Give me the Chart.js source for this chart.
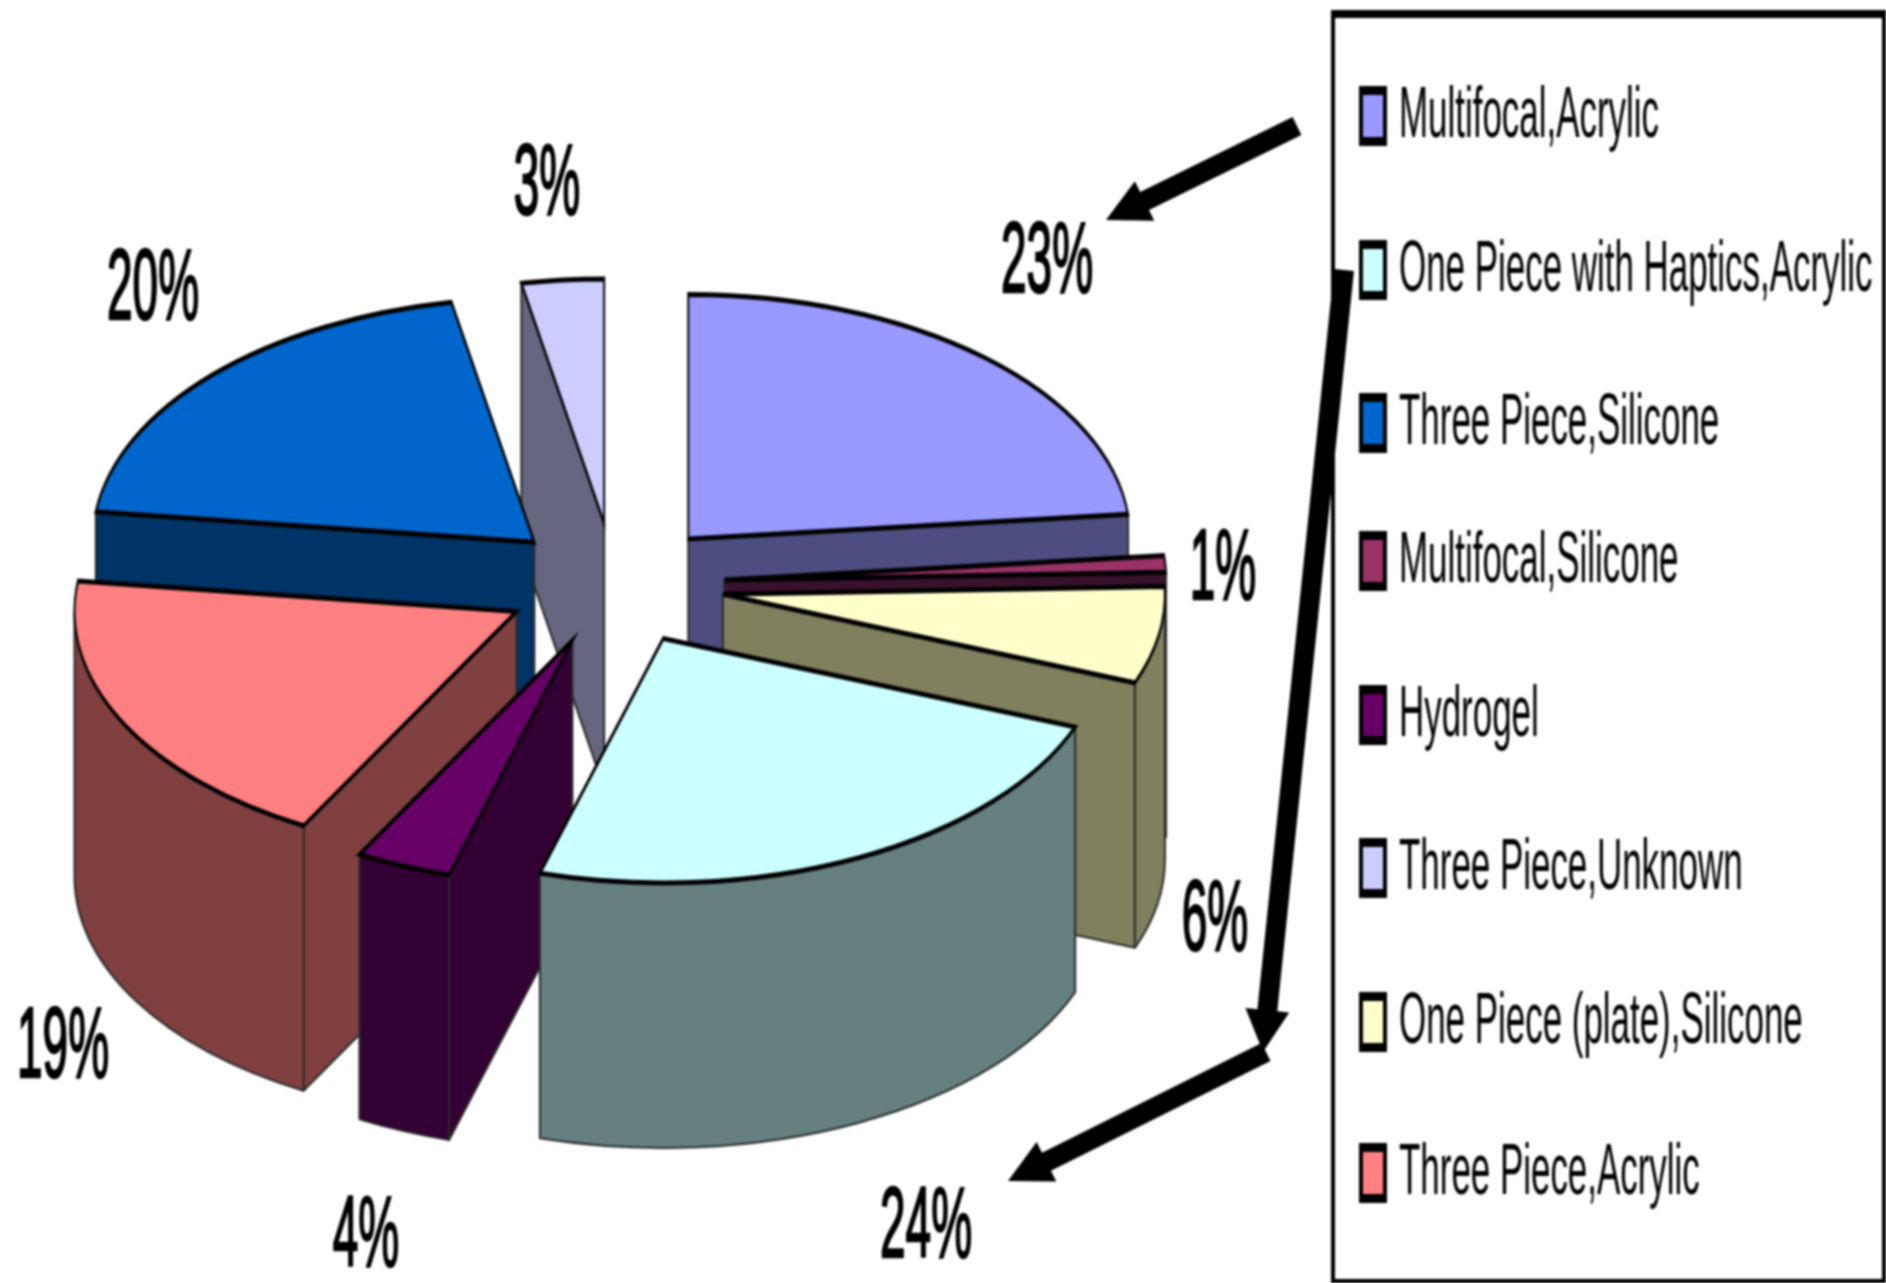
<!DOCTYPE html>
<html>
<head>
<meta charset="utf-8">
<style>
html,body{margin:0;padding:0;background:#fff;overflow:hidden}
#c{display:block;filter:blur(0.8px)}
</style>
<script src="https://cdn.jsdelivr.net/npm/chart.js@4"></script>
</head>
<body>
<canvas id="c" width="1886" height="1283"></canvas>
<script>
// clockwise from 12 o'clock, they round to the printed percentages
const sliceLabels = ['Multifocal,Acrylic','Multifocal,Silicone','One Piece (plate),Silicone','One Piece with Haptics,Acrylic','Hydrogel','Three Piece,Acrylic','Three Piece,Silicone','Three Piece,Unknown'];
const sliceValues = [23.4,1.1,6.4,23.6,3.5,19,20,3];
const topColors  = ['#9999FF','#993366','#FFFFCC','#CCFFFF','#660066','#FF8080','#0066CC','#CCCCFF'];
const wallColors = ['#4D4D80','#38122A','#80805F','#668080','#330033','#804040','#003366','#666680'];
const paintOrder = [7,6,0,1,2,5,4,3];
const legendOrder = [0,3,6,1,4,7,2,5];
const legendTops = [86,240,393,531,685,838,992,1143];
const percentLabels = ['23%','1%','6%','24%','4%','19%','20%','3%'];
const percentAnchors = [[1047,292],[1223,599],[1215,950],[926,1257],[366,1266],[63,1077],[153,319],[547,214]];

// view settings of the fake 3D pie
const SQUISH = 0.553, DEPTH = 265, EXPLODE = 110, RADIUS = 442;

function slicePath(ctx, ax, ay, a0, a1, R){
  ctx.beginPath();
  ctx.moveTo(ax, ay);
  ctx.ellipse(ax, ay, R, R*SQUISH, 0, a0, a1);
  ctx.closePath();
}
function drawWalls(ctx, ax, ay, a0, a1, R, col){
  ctx.fillStyle = col;
  ctx.strokeStyle = '#2a2a2a';
  ctx.lineWidth = 2;
  ctx.lineJoin = 'round';
  // only the radial walls that face the viewer
  const facing = [];
  if (Math.cos(a0) < 0) facing.push(a0);
  if (Math.cos(a1) > 0) facing.push(a1);
  facing.forEach(a=>{
    const rx = ax + R*Math.cos(a), ry = ay + R*SQUISH*Math.sin(a);
    ctx.beginPath();
    ctx.moveTo(ax,ay); ctx.lineTo(rx,ry); ctx.lineTo(rx,ry+DEPTH); ctx.lineTo(ax,ay+DEPTH); ctx.closePath();
    ctx.fill(); ctx.stroke();
  });
  const lo = Math.max(a0,0), hi = Math.min(a1,Math.PI);
  if (hi > lo){
    ctx.beginPath();
    ctx.ellipse(ax, ay, R, R*SQUISH, 0, lo, hi);
    ctx.ellipse(ax, ay+DEPTH, R, R*SQUISH, 0, hi, lo, true);
    ctx.closePath();
    ctx.fill(); ctx.stroke();
  }
}
function arrow(ctx, x0, y0, x1, y1, w, headLen, headHalf){
  const dx=x1-x0, dy=y1-y0, L=Math.hypot(dx,dy), ux=dx/L, uy=dy/L, nx=-uy, ny=ux;
  const bx=x1-ux*headLen, by=y1-uy*headLen;
  ctx.fillStyle='#000';
  ctx.beginPath();
  ctx.moveTo(x0+nx*w/2,y0+ny*w/2); ctx.lineTo(bx+nx*w/2,by+ny*w/2);
  ctx.lineTo(bx+nx*headHalf,by+ny*headHalf); ctx.lineTo(x1,y1);
  ctx.lineTo(bx-nx*headHalf,by-ny*headHalf);
  ctx.lineTo(bx-nx*w/2,by-ny*w/2); ctx.lineTo(x0-nx*w/2,y0-ny*w/2);
  ctx.closePath(); ctx.fill();
}
function squeezedText(ctx, str, x, y, font, kx, align, heavy){
  ctx.save();
  ctx.translate(x,y); ctx.scale(kx,1);
  ctx.font=font; ctx.textAlign=align; ctx.textBaseline='alphabetic'; ctx.fillStyle='#000';
  ctx.fillText(str,0,0);
  if (heavy){ ctx.strokeStyle='#000'; ctx.lineWidth=heavy; ctx.strokeText(str,0,0); }
  ctx.restore();
}

const pie3d = {
  id:'pie3d',
  beforeDatasetsDraw(chart){
    const ctx = chart.ctx, meta = chart.getDatasetMeta(0);
    paintOrder.forEach(i=>{
      const arc = meta.data[i];
      const {x,y,startAngle:a0,endAngle:a1,outerRadius:R} = arc;
      const mid=(a0+a1)/2;
      const ax = x+Math.cos(mid)*EXPLODE, ay = y+Math.sin(mid)*EXPLODE*SQUISH;
      ctx.save();
      drawWalls(ctx,ax,ay,a0,a1,R,wallColors[i]);
      ctx.restore();
      // library arc, flattened and pulled out of the pie
      ctx.save();
      ctx.translate(ax,ay); ctx.scale(1,SQUISH); ctx.translate(-x,-y);
      arc.draw(ctx);
      ctx.restore();
      // outline with a pen taller than it is wide, as in the stretched source
      ctx.save();
      slicePath(ctx,ax,ay,a0,a1,R);
      ctx.setTransform(1,0,0,2.5,0,0);
      ctx.strokeStyle='#000'; ctx.lineWidth=2; ctx.lineJoin='miter';
      ctx.stroke();
      ctx.restore();
    });
    return false;
  },
  afterDraw(chart){
    const ctx = chart.ctx;
    // percent labels
    percentLabels.forEach((t,i)=>{
      const [px,py]=percentAnchors[i];
      squeezedText(ctx,t,px,py,'100px "Liberation Sans"',0.46,'center',2.5);
    });
    // legend frame
    ctx.fillStyle='#000';
    ctx.fillRect(1331,10,555,8);
    ctx.fillRect(1331,1279,555,4);
    ctx.fillRect(1331,10,4,1273);
    ctx.fillRect(1882,10,4,1273);
    // legend rows
    legendOrder.forEach((k,row)=>{
      const top=legendTops[row];
      ctx.fillStyle='#000'; ctx.fillRect(1359,top,28,60);
      ctx.fillStyle=topColors[k]; ctx.fillRect(1363,top+9,20,42);
      squeezedText(ctx,sliceLabels[k],1399,top+51,'72px "Liberation Sans"',0.485,'left');
    });
    // arrows
    arrow(ctx,1297,126,1106,220,20,43,22);
    arrow(ctx,1344,270,1263,1052,20,42,22);
    arrow(ctx,1266,1052,1008,1181,20,43,22);
  }
};

new Chart(document.getElementById('c'),{
  type:'pie',
  data:{labels:sliceLabels,datasets:[{data:sliceValues,backgroundColor:topColors,borderWidth:0,clip:false}]},
  options:{
    responsive:false,animation:false,devicePixelRatio:1,
    radius:RADIUS,
    layout:{padding:{left:0,right:657,top:0,bottom:115}},
    events:[],
    plugins:{legend:{display:false},tooltip:{enabled:false},title:{display:false}}
  },
  plugins:[pie3d]
});
</script>
</body>
</html>
